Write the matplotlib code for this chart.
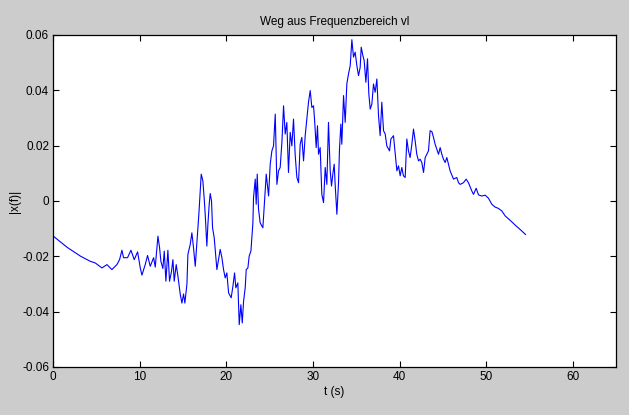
import numpy as np
import matplotlib
matplotlib.use('Agg')
import matplotlib.pyplot as plt

# Weg aus Frequenzbereich
t = [0.0, 1.58, 3.12, 4.27, 4.85, 5.62, 6.20, 6.77, 7.35, 7.66, 7.93, 8.12, 8.58, 8.97, 9.35,
     9.74, 10.05, 10.24, 10.62, 10.89, 11.20, 11.59, 11.78, 12.09, 12.28, 12.43, 12.66, 12.82,
     13.01, 13.24, 13.43, 13.66, 13.82, 13.97, 14.20, 14.40, 14.67, 14.86, 15.05, 15.20, 15.44,
     15.55, 15.82, 16.01, 16.20, 16.40, 16.59, 16.82,
     17.09, 17.28, 17.44, 17.55, 17.74, 17.86, 18.01, 18.13, 18.28, 18.40, 18.59, 18.75, 18.90,
     19.09, 19.28, 19.48, 19.67, 19.86, 20.05, 20.25, 20.55, 20.75, 20.94, 21.09, 21.32, 21.48,
     21.67, 21.83, 21.98, 22.17, 22.29, 22.48, 22.63, 22.83, 23.06, 23.13, 23.33, 23.44, 23.56,
     23.71, 23.90,
     24.21, 24.60, 24.87, 25.06, 25.25, 25.44, 25.64, 25.83, 26.02, 26.21, 26.41, 26.60, 26.79,
     26.98, 27.17, 27.37, 27.56, 27.75, 27.95, 28.14, 28.33, 28.52, 28.71, 28.91, 29.10, 29.29,
     29.48, 29.68, 29.87, 30.06, 30.18, 30.37, 30.52, 30.64, 30.83, 31.02, 31.22, 31.41, 31.60,
     31.79, 31.99, 32.14, 32.29, 32.45, 32.56, 32.76, 32.95, 33.06, 33.22, 33.33, 33.53, 33.72,
     33.91, 34.10, 34.30, 34.49, 34.68, 34.87, 35.07, 35.26, 35.45, 35.57, 35.76, 35.91, 36.11,
     36.30, 36.45, 36.61, 36.80, 36.99, 37.18, 37.38, 37.57, 37.76, 37.95, 38.15, 38.34, 38.53,
     38.84,
     39.00, 39.30, 39.49, 39.69, 39.88, 40.07, 40.26, 40.45, 40.65, 40.84, 41.03, 41.22, 41.42,
     41.61, 41.80, 41.99, 42.19, 42.38, 42.57, 42.77, 42.96, 43.15, 43.34, 43.53, 43.73, 43.92,
     44.11, 44.30, 44.50, 44.69, 44.88, 45.07, 45.27, 45.46, 45.65, 45.84, 46.23, 46.61, 46.81,
     47.00, 47.38, 47.69, 47.96, 48.35, 48.54, 48.85, 49.12, 49.50, 49.89, 50.27, 50.66, 51.04,
     51.43, 51.81, 52.20, 52.78, 53.35, 53.93, 54.55]

x = [-0.0127, -0.0167, -0.0199, -0.0218, -0.0224, -0.0242, -0.0230, -0.0248, -0.0230, -0.0212,
     -0.0178, -0.0205, -0.0205, -0.0178, -0.0212, -0.0184, -0.0242, -0.0268, -0.0230, -0.0197,
     -0.0236, -0.0205, -0.0239, -0.0127, -0.0169, -0.0218, -0.0244, -0.0181, -0.0290, -0.0178,
     -0.0290, -0.0254, -0.0212, -0.0290, -0.0230, -0.0272, -0.0338, -0.0369, -0.0336, -0.0369,
     -0.0300, -0.0193, -0.0157, -0.0115, -0.0169, -0.0236, -0.0151, -0.0046,
     0.0097, 0.0073, 0.0006, -0.0048, -0.0163, -0.0085, -0.0012, 0.0027, 0.0000, -0.0097,
     -0.0133, -0.0193, -0.0248, -0.0212, -0.0175, -0.0205, -0.0248, -0.0278, -0.0260, -0.0332,
     -0.0350, -0.0308, -0.0260, -0.0314, -0.0296, -0.0447, -0.0375, -0.0441, -0.0363, -0.0314,
     -0.0248, -0.0242, -0.0199, -0.0181, -0.0079, 0.0012, 0.0079, -0.0012, 0.0097, -0.0030,
     -0.0079,
     -0.0097, 0.0097, 0.0018, 0.0133, 0.0181, 0.0199, 0.0314, 0.0060, 0.0109, 0.0121, 0.0212,
     0.0344, 0.0242, 0.0284, 0.0103, 0.0248, 0.0199, 0.0296, 0.0163, 0.0085, 0.0066, 0.0205,
     0.0230, 0.0145, 0.0236, 0.0296, 0.0357, 0.0399, 0.0338, 0.0344, 0.0296, 0.0193, 0.0272,
     0.0169, 0.0193, 0.0024, -0.0006, 0.0121, 0.0060, 0.0284, 0.0109, 0.0054, 0.0097, 0.0133,
     0.0060, -0.0048, 0.0066, 0.0187, 0.0278, 0.0205, 0.0381, 0.0284, 0.0423, 0.0459, 0.0489,
     0.0583, 0.0520, 0.0538, 0.0489, 0.0453, 0.0483, 0.0556, 0.0526, 0.0508, 0.0429, 0.0514,
     0.0387, 0.0332, 0.0350, 0.0423, 0.0393, 0.0441, 0.0308, 0.0236, 0.0357, 0.0254, 0.0242,
     0.0199, 0.0181,
     0.0224, 0.0236, 0.0175, 0.0109, 0.0127, 0.0091, 0.0121, 0.0091, 0.0085, 0.0224, 0.0181,
     0.0157, 0.0205, 0.0260, 0.0218, 0.0169, 0.0145, 0.0151, 0.0139, 0.0103, 0.0157, 0.0169,
     0.0181, 0.0254, 0.0251, 0.0230, 0.0205, 0.0187, 0.0169, 0.0193, 0.0169, 0.0151, 0.0139,
     0.0157, 0.0133, 0.0109, 0.0079, 0.0085, 0.0066, 0.0060, 0.0066, 0.0079, 0.0066, 0.0036,
     0.0024, 0.0046, 0.0022, 0.0018, 0.0021, 0.0010, -0.0012, -0.0022, -0.0027, -0.0036,
     -0.0054, -0.0070, -0.0087, -0.0103, -0.0121]

xticks = [0, 10, 20, 30, 40, 50, 60]
yticks = [-0.06, -0.04, -0.02, 0, 0.02, 0.04, 0.06]
ytick_labels = ['-0.06', '-0.04', '-0.02', '0', '0.02', '0.04', '0.06']

plt.rcParams['font.family'] = ['Liberation Sans', 'DejaVu Sans']
plt.rcParams['font.size'] = 8.5

fig = plt.figure(figsize=(6.29, 4.15), dpi=100, facecolor='#cccccc')
ax = fig.add_axes([0.0847, 0.1157, 0.8946, 0.80])
ax.set_facecolor('white')

# the signal itself
ax.plot(t, x, color='#0000ff', linewidth=0.8)

ax.set_xlim(0, 65)
ax.set_ylim(-0.06, 0.06)
ax.set_xticks(xticks)
ax.set_yticks(yticks)
ax.set_yticklabels(ytick_labels)

# matlab look: ticks inside, on all four sides
ax.tick_params(direction='in', length=4, width=0.8, top=True, right=True, pad=3, colors='black')
for sp in ax.spines.values():
    sp.set_linewidth(0.9)

ax.set_title('Weg aus Frequenzbereich vl', fontsize=8.5, pad=7)
ax.set_xlabel('t (s)', labelpad=2)
ax.set_ylabel('|x(f)|', labelpad=1)

fig.savefig('out.png', dpi=100, facecolor=fig.get_facecolor())
